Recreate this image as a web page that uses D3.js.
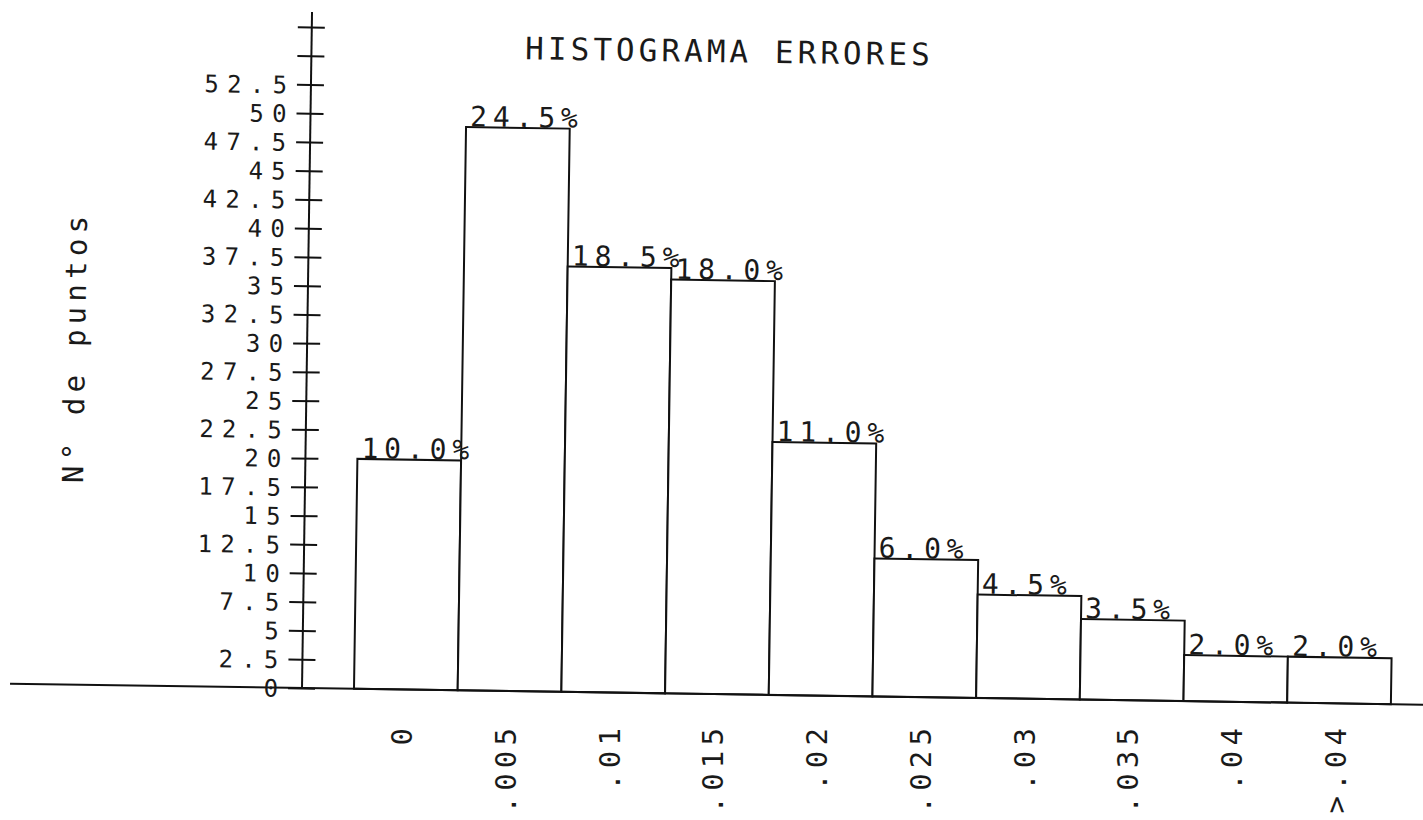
<!DOCTYPE html>
<html>
<head>
<meta charset="utf-8">
<script src="https://cdn.jsdelivr.net/npm/d3@7"></script>
<style>
  body { margin: 0; background: #fff; }
  text { font-family: "DejaVu Sans Mono", monospace; fill: #1a1a1a; }
</style>
</head>
<body>
<script>
// histogram data
var categories = ["0", ".005", ".01", ".015", ".02", ".025", ".03", ".035", ".04", ">.04"];
var counts = [20, 49, 37, 36, 22, 12, 9, 7, 4, 4];
var pctLabels = ["10.0%", "24.5%", "18.5%", "18.0%", "11.0%", "6.0%", "4.5%", "3.5%", "2.0%", "2.0%"];
var yTicks = [0, 2.5, 5, 7.5, 10, 12.5, 15, 17.5, 20, 22.5, 25, 27.5, 30, 32.5, 35, 37.5, 40, 42.5, 45, 47.5, 50, 52.5, 55, 57.5];
var yTickMaxLabel = 52.5;
var title = "HISTOGRAMA ERRORES";
var yTitle = "N° de puntos";

var W = 1423, H = 820;
var ox = 302, oy = 688, ang = 0.85; // scanned page is slightly tilted
var adv = 22.7; // plotter character pitch
function ls(fs) { return adv - 0.602 * fs; }

var svg = d3.select("body").append("svg")
    .attr("width", W)
    .attr("height", H);

svg.append("rect").attr("width", W).attr("height", H).attr("fill", "#fff");

var y = d3.scaleLinear().domain([0, 57.5]).range([oy, 27]);
var x = d3.scaleBand().domain(categories).range([354, 1391]).padding(0);

var data = categories.map(function(c, i) {
    return {cat: c, count: counts[i], pct: pctLabels[i]};
});

var g = svg.append("g").attr("transform", "rotate(" + ang + "," + ox + "," + oy + ")");

// bars
g.selectAll("rect.bar")
    .data(data)
    .join("rect")
    .attr("class", "bar")
    .attr("x", function(d) { return x(d.cat); })
    .attr("y", function(d) { return y(d.count); })
    .attr("width", x.bandwidth())
    .attr("height", function(d) { return y(0) - y(d.count); })
    .attr("fill", "#fff")
    .attr("stroke", "#111")
    .attr("stroke-width", 2);

// x axis line
g.append("line")
    .attr("x1", 10).attr("x2", 1445)
    .attr("y1", y(0)).attr("y2", y(0))
    .attr("stroke", "#111").attr("stroke-width", 2);

// y axis line
g.append("line")
    .attr("x1", ox).attr("x2", ox)
    .attr("y1", y(0)).attr("y2", 12)
    .attr("stroke", "#111").attr("stroke-width", 2);

var fsY = 24;
var yAxis = d3.axisLeft(y)
    .tickValues(yTicks)
    .tickSize(0)
    .tickFormat(function(d) { return d <= yTickMaxLabel ? d3.format("")(d) : ""; });

var ya = g.append("g")
    .attr("transform", "translate(" + ox + ",0)")
    .call(yAxis);
ya.attr("font-family", null).attr("font-size", null);
ya.select(".domain").remove();
ya.selectAll(".tick line")
    .attr("x1", -14).attr("x2", 13)
    .attr("stroke", "#111").attr("stroke-width", 2);
ya.selectAll(".tick text")
    .attr("x", -24 + ls(fsY))
    .attr("dy", "0.36em")
    .style("font-size", fsY + "px")
    .style("letter-spacing", ls(fsY) + "px");

// percentage labels on top of bars
var fsP = 28;
g.selectAll("text.pct")
    .data(data)
    .join("text")
    .attr("class", "pct")
    .attr("x", function(d) { return x(d.cat) + 4; })
    .attr("y", function(d) { return y(d.count) - 1; })
    .style("font-size", fsP + "px")
    .style("letter-spacing", ls(fsP) + "px")
    .text(function(d) { return d.pct; });

// title
var fsT = 31;
g.append("text")
    .attr("x", 718 + ls(fsT) / 2)
    .attr("y", 56)
    .attr("text-anchor", "middle")
    .style("font-size", fsT + "px")
    .style("letter-spacing", ls(fsT) + "px")
    .text(title);

// y title
var fsYT = 29;
g.append("text")
    .attr("transform", "translate(80," + (353 - ls(fsYT) / 2) + ") rotate(-90)")
    .attr("text-anchor", "middle")
    .style("font-size", fsYT + "px")
    .style("letter-spacing", ls(fsYT) + "px")
    .text(yTitle);

// x tick labels (vertical)
var fsX = 29;
var xa = svg.append("g").call(d3.axisBottom(x).tickSize(0));
xa.attr("font-family", null).attr("font-size", null);
xa.select(".domain").remove();
xa.selectAll(".tick text")
    .attr("x", 0).attr("y", 0)
    .attr("transform", "translate(-4," + (728 - ls(fsX)) + ") rotate(-90)")
    .attr("text-anchor", "end")
    .attr("dy", "0.36em")
    .style("font-size", fsX + "px")
    .style("letter-spacing", ls(fsX) + "px");
</script>
</body>
</html>
